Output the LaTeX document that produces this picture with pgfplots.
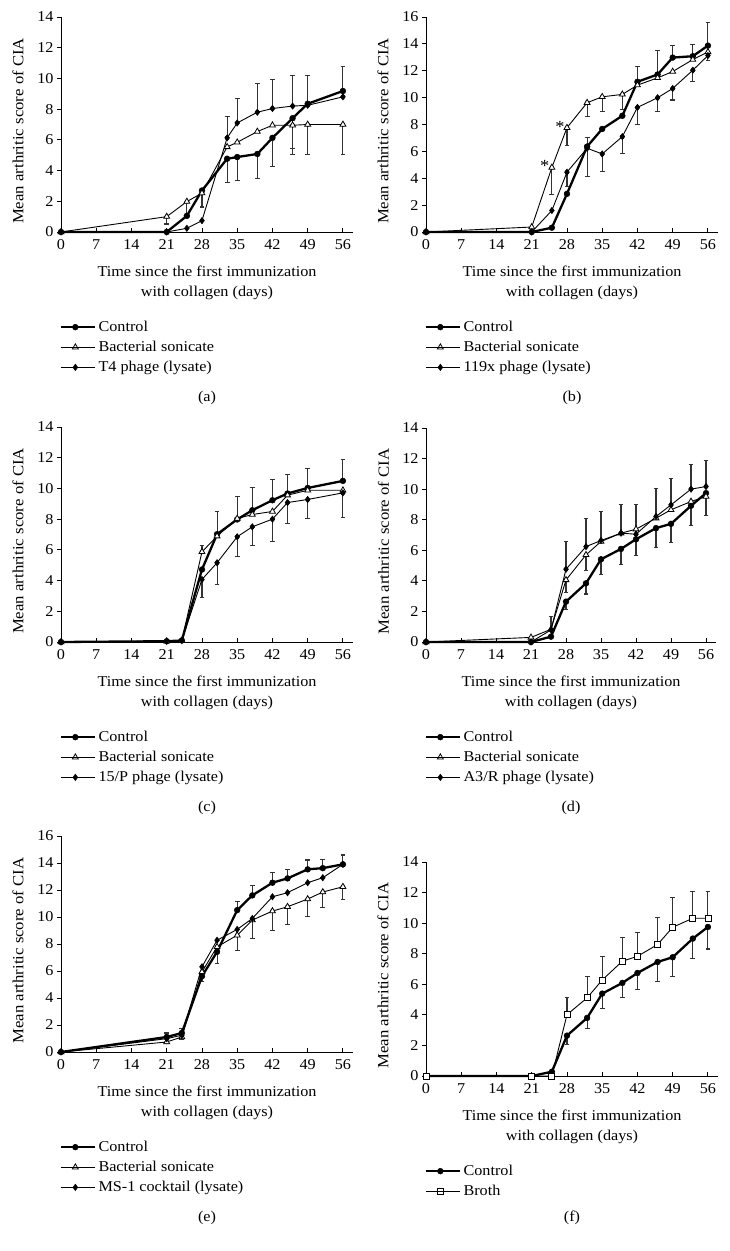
\documentclass[border=0pt]{standalone}
\usepackage{fontspec}
\setmainfont{Liberation Serif}[FakeStretch=1.08]
\usepackage{pgfplots}
\pgfplotsset{compat=1.18}

\tikzset{plab/.style={font=\fontsize{15}{17}\selectfont}}
\pgfplotsset{
  panel/.style={
    scale only axis, width=292pt, height=215pt, anchor=south west,
    xmin=0, xmax=58, ymin=0, ymax=14, clip=false,
    axis lines=left, axis line style={-, line width=0.9pt},
    xtick={0,7,...,56}, ytick={0,2,...,16},
    tick align=outside, major tick length=4pt,
    tick style={black, line width=0.9pt},
    x tick style={yshift=4pt},
    /pgf/number format/assume math mode=true,
    ticklabel style={font=\fontsize{15}{17}\selectfont},
    ylabel={Mean arthritic score of CIA},
    ylabel style={at={(axis description cs:-0.147,0.47)}, anchor=center, font=\fontsize{15.5}{17}\selectfont},
    xlabel={Time since the first immunization\\with collagen (days)},
    xlabel style={at={(axis description cs:0.5,0)}, anchor=center, yshift=-51pt, align=center, font=\fontsize{15}{19.5}\selectfont},
    legend cell align=left,
    legend style={draw=none, fill=none, at={(axis description cs:0,0)}, anchor=north west, yshift=-85pt, xshift=-4pt,
      font=\fontsize{15}{17}\selectfont, row sep=4.2pt},
    legend image code/.code={\draw[mark repeat=2,mark phase=2,##1] plot coordinates {(0pt,0pt) (14pt,0pt) (28pt,0pt)}; \path (0pt,0pt) -- (34pt,0pt);},
  },
  ctrl/.style={black, line width=2.3pt, mark=*, mark size=2.9pt, mark options={solid, line width=0.5pt}},
  bsl/.style={black, line width=0.9pt, mark=triangle*, mark size=3.4pt, mark options={solid, fill=white, line width=0.8pt}},
  phl/.style={black, line width=0.9pt, mark=diamond*, mark size=3.2pt, mark options={solid, line width=0.5pt}},
  brl/.style={black, line width=0.9pt, mark=square*, mark size=3pt, mark options={solid, fill=white, line width=0.8pt}},
  eup/.style={forget plot, only marks, mark=none, error bars/.cd, y dir=plus, y explicit,
    error bar style={line width=1.1pt, black!80}, error mark options={rotate=90, mark size=2.4pt, line width=1.1pt, black!80}},
  edn/.style={forget plot, only marks, mark=none, error bars/.cd, y dir=minus, y explicit,
    error bar style={line width=1.1pt, black!80}, error mark options={rotate=90, mark size=2.4pt, line width=1.1pt, black!80}},
}

\begin{document}
\begin{tikzpicture}[x=1pt,y=1pt]
\path[use as bounding box] (0,0) rectangle (729,1251);

% (a)
\begin{axis}[panel, at={(61pt,1019pt)}]
\addplot[eup] coordinates {(33,6.13) +- (0,1.41) (35,7.1) +- (0,1.58) (39,7.8) +- (0,1.86) (42,8.04) +- (0,1.9) (46,8.2) +- (0,2.0) (49,8.25) +- (0,1.95) (56,8.8) +- (0,2.0)};
\addplot[edn] coordinates {(33,4.77) +- (0,1.54) (35,4.88) +- (0,1.52) (39,5.08) +- (0,1.61) (42,6.13) +- (0,1.86) (46,7.41) +- (0,2.0)};
\addplot[edn] coordinates {(21,1.0) +- (0,0.48) (25,1.98) +- (0,0.9) (28,2.53) +- (0,0.9) (46,6.95) +- (0,1.92) (49,7.0) +- (0,1.97) (56,7.0) +- (0,1.97)};
\addplot[ctrl] coordinates {(0,0) (21,0) (25,1.05) (28,2.7) (33,4.77) (35,4.88) (39,5.08) (42,6.13) (46,7.41) (49,8.35) (56,9.18)};
\addlegendentry{Control}
\addplot[bsl] coordinates {(0,0) (21,1.0) (25,1.98) (28,2.53) (33,5.54) (35,5.84) (39,6.54) (42,6.95) (46,6.95) (49,7.0) (56,7.0)};
\addlegendentry{Bacterial sonicate}
\addplot[phl] coordinates {(0,0) (21,0) (25,0.24) (28,0.74) (33,6.13) (35,7.1) (39,7.8) (42,8.04) (46,8.2) (49,8.25) (56,8.8)};
\addlegendentry{T4 phage (lysate)}
\node[plab, yshift=-166pt] at (axis description cs:0.5,0) {(a)};
\end{axis}

% (b)
\begin{axis}[panel, at={(426pt,1019pt)}, ymax=16]
\addplot[edn] coordinates {(25,4.8) +- (0,2.0) (28,7.76) +- (0,1.33) (32,9.62) +- (0,1.04) (35,10.06) +- (0,1.1) (39,10.24) +- (0,1.1)};
\addplot[eup] coordinates {(32,6.36) +- (0,0.66) (42,11.18) +- (0,1.16) (46,11.72) +- (0,1.8) (49,12.98) +- (0,0.87) (53,13.08) +- (0,0.87) (56,13.87) +- (0,1.7)};
\addplot[edn] coordinates {(28,4.45) +- (0,1.06) (32,6.23) +- (0,2.1) (35,5.81) +- (0,1.34) (39,7.1) +- (0,1.29) (42,9.27) +- (0,1.26) (46,9.99) +- (0,1.04) (49,10.68) +- (0,0.86) (53,12.04) +- (0,0.82) (56,13.13) +- (0,0.4)};
\addplot[ctrl] coordinates {(0,0) (21,0) (25,0.32) (28,2.84) (32,6.36) (35,7.67) (39,8.65) (42,11.18) (46,11.72) (49,12.98) (53,13.08) (56,13.87)};
\addlegendentry{Control}
\addplot[bsl] coordinates {(0,0) (21,0.37) (25,4.8) (28,7.76) (32,9.62) (35,10.06) (39,10.24) (42,10.93) (46,11.47) (49,11.94) (53,12.83) (56,13.4)};
\addlegendentry{Bacterial sonicate}
\addplot[phl] coordinates {(0,0) (21,0) (25,1.6) (28,4.45) (32,6.23) (35,5.81) (39,7.1) (42,9.27) (46,9.99) (49,10.68) (53,12.04) (56,13.13)};
\addlegendentry{119x phage (lysate)}
\node[font=\fontsize{17}{17}\selectfont] at (axis cs:23.6,4.9) {*};
\node[font=\fontsize{17}{17}\selectfont] at (axis cs:26.6,7.8) {*};
\node[plab, yshift=-166pt] at (axis description cs:0.5,0) {(b)};
\end{axis}

% (c)
\begin{axis}[panel, at={(61pt,609pt)}]
\addplot[eup] coordinates {(28,5.87) +- (0,0.4) (31,7.02) +- (0,1.45) (35,7.98) +- (0,1.47) (38,8.58) +- (0,1.48) (42,9.23) +- (0,1.37) (45,9.67) +- (0,1.25) (49,10.03) +- (0,1.26) (56,10.49) +- (0,1.39)};
\addplot[edn] coordinates {(28,4.07) +- (0,1.17) (31,5.16) +- (0,1.39) (35,6.85) +- (0,1.26) (38,7.5) +- (0,1.19) (42,8.0) +- (0,1.48) (45,9.08) +- (0,1.38) (49,9.28) +- (0,1.23) (56,9.71) +- (0,1.61)};
\addplot[ctrl] coordinates {(0,0) (21,0.05) (24,0.1) (28,4.72) (31,7.02) (35,7.98) (38,8.58) (42,9.23) (45,9.67) (49,10.03) (56,10.49)};
\addlegendentry{Control}
\addplot[bsl] coordinates {(0,0) (21,0.05) (24,0.1) (28,5.87) (31,6.89) (35,8.04) (38,8.3) (42,8.5) (45,9.56) (49,9.88) (56,9.88)};
\addlegendentry{Bacterial sonicate}
\addplot[phl] coordinates {(0,0) (21,0.05) (24,0.1) (28,4.07) (31,5.16) (35,6.85) (38,7.5) (42,8.0) (45,9.08) (49,9.28) (56,9.71)};
\addlegendentry{15/P phage (lysate)}
\node[plab, yshift=-166pt] at (axis description cs:0.5,0) {(c)};
\end{axis}

% (d)
\begin{axis}[panel, at={(426pt,609pt)}, width=290pt, height=214pt]
\addplot[eup] coordinates {(25,0.79) +- (0,0.87) (28,4.76) +- (0,1.84) (32,6.24) +- (0,1.86) (35,6.64) +- (0,1.91) (39,7.12) +- (0,1.9) (42,7.05) +- (0,1.95) (46,8.21) +- (0,1.84) (49,8.97) +- (0,1.73) (53,10.0) +- (0,1.6) (56,10.17) +- (0,1.68)};
\addplot[edn] coordinates {(28,2.64) +- (0,0.5) (32,3.84) +- (0,0.7) (35,5.41) +- (0,1.0) (39,6.09) +- (0,1.0) (42,6.72) +- (0,1.07) (46,7.45) +- (0,1.25) (49,7.73) +- (0,1.25) (53,8.91) +- (0,1.3) (56,9.74) +- (0,1.45)};
\addplot[edn] coordinates {(28,4.06) +- (0,0.8) (32,5.7) +- (0,1.05)};
\addplot[ctrl] coordinates {(0,0) (21,0) (25,0.35) (28,2.64) (32,3.84) (35,5.41) (39,6.09) (42,6.72) (46,7.45) (49,7.73) (53,8.91) (56,9.74)};
\addlegendentry{Control}
\addplot[bsl] coordinates {(0,0) (21,0.3) (25,0.83) (28,4.06) (32,5.7) (35,6.57) (39,7.12) (42,7.38) (46,8.1) (49,8.65) (53,9.19) (56,9.52)};
\addlegendentry{Bacterial sonicate}
\addplot[phl] coordinates {(0,0) (21,0) (25,0.79) (28,4.76) (32,6.24) (35,6.64) (39,7.12) (42,7.05) (46,8.21) (49,8.97) (53,10.0) (56,10.17)};
\addlegendentry{A3/R phage (lysate)}
\node[plab, yshift=-166pt] at (axis description cs:0.5,0) {(d)};
\end{axis}

% (e)
\begin{axis}[panel, at={(61pt,199pt)}, height=216pt, ymax=16]
\addplot[eup] coordinates {(21,1.11) +- (0,0.3) (24,1.41) +- (0,0.32) (35,10.51) +- (0,0.67) (38,11.6) +- (0,0.76) (42,12.54) +- (0,0.74) (45,12.86) +- (0,0.67) (49,13.53) +- (0,0.69) (52,13.62) +- (0,0.67) (56,13.9) +- (0,0.69)};
\addplot[edn] coordinates {(21,0.74) +- (0,0.12) (24,1.11) +- (0,0.2) (28,5.93) +- (0,0.7) (31,7.79) +- (0,1.24) (35,8.65) +- (0,1.16) (38,9.77) +- (0,1.37) (42,10.44) +- (0,1.41) (45,10.76) +- (0,1.31) (49,11.33) +- (0,1.31) (52,11.85) +- (0,1.17) (56,12.24) +- (0,0.94)};
\addplot[ctrl] coordinates {(0,0) (21,1.11) (24,1.41) (28,5.61) (31,7.42) (35,10.51) (38,11.6) (42,12.54) (45,12.86) (49,13.53) (52,13.62) (56,13.9)};
\addlegendentry{Control}
\addplot[bsl] coordinates {(0,0) (21,0.74) (24,1.11) (28,5.93) (31,7.79) (35,8.65) (38,9.77) (42,10.44) (45,10.76) (49,11.33) (52,11.85) (56,12.24)};
\addlegendentry{Bacterial sonicate}
\addplot[phl] coordinates {(0,0) (21,0.99) (24,1.24) (28,6.31) (31,8.28) (35,9.08) (38,9.89) (42,11.5) (45,11.8) (49,12.54) (52,12.91) (56,13.9)};
\addlegendentry{MS-1 cocktail (lysate)}
\node[plab, yshift=-166pt] at (axis description cs:0.5,0) {(e)};
\end{axis}

% (f)
\begin{axis}[panel, at={(426pt,175pt)}, height=214pt]
\addplot[eup] coordinates {(28,4.01) +- (0,1.1) (32,5.11) +- (0,1.41) (35,6.28) +- (0,1.51) (39,7.51) +- (0,1.53) (42,7.83) +- (0,1.53) (46,8.6) +- (0,1.74) (49,9.73) +- (0,1.92) (53,10.32) +- (0,1.77) (56,10.32) +- (0,1.77)};
\addplot[edn] coordinates {(28,2.64) +- (0,0.59) (32,3.8) +- (0,0.7) (35,5.39) +- (0,1.0) (39,6.09) +- (0,0.98) (42,6.74) +- (0,1.09) (46,7.46) +- (0,1.26) (49,7.77) +- (0,1.25) (53,8.99) +- (0,1.33) (56,9.75) +- (0,1.44)};
\addplot[ctrl] coordinates {(0,0) (21,0) (25,0.28) (28,2.64) (32,3.8) (35,5.39) (39,6.09) (42,6.74) (46,7.46) (49,7.77) (53,8.99) (56,9.75)};
\addlegendentry{Control}
\addplot[brl] coordinates {(0,0) (21,0) (25,0) (28,4.01) (32,5.11) (35,6.28) (39,7.51) (42,7.83) (46,8.6) (49,9.73) (53,10.32) (56,10.32)};
\addlegendentry{Broth}
\node[plab, yshift=-142pt] at (axis description cs:0.5,0) {(f)};
\end{axis}
\end{tikzpicture}
\end{document}
